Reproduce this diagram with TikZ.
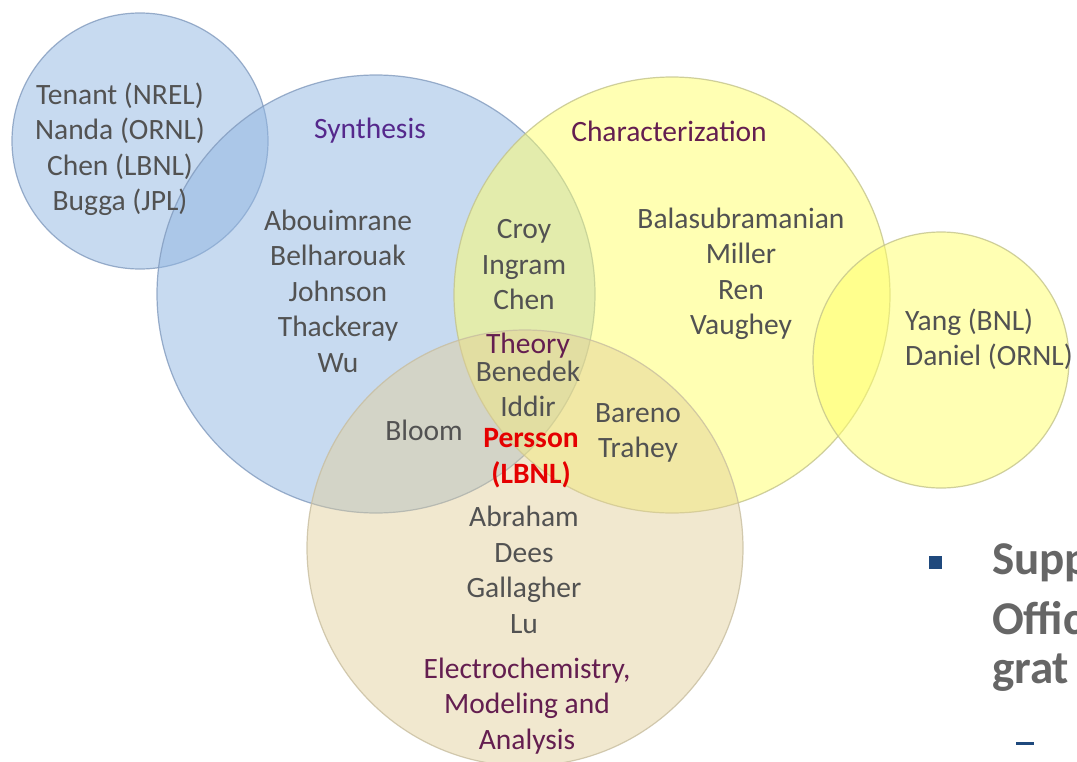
\documentclass[tikz,border=0pt]{standalone}
\usepackage{fontspec}
\setmainfont{Carlito}
\begin{document}
\begin{tikzpicture}[x=1pt,y=-1pt,
  namefont/.style={font=\fontsize{29.5}{35.5}\selectfont, text=black!68, align=center, inner sep=0pt},
  catpurple/.style={font=\fontsize{29.5}{35.5}\selectfont, text=catcol, align=center, inner sep=0pt},
  bluecirc/.style={fill=bluefill, fill opacity=0.5, draw=blueline, draw opacity=0.8, line width=1.2pt},
  yelcirc/.style={fill=yelfill, fill opacity=0.5, draw=yelline, draw opacity=0.8, line width=1.2pt},
  beigecirc/.style={fill=beigefill, fill opacity=0.45, draw=beigeline, draw opacity=0.8, line width=1.2pt},
  bigtext/.style={font=\fontsize{47}{55}\selectfont\bfseries, text=black!60, anchor=west, inner sep=0pt}
]
\definecolor{bluefill}{RGB}{145,182,226}
\definecolor{blueline}{RGB}{130,155,190}
\definecolor{yelfill}{RGB}{255,255,105}
\definecolor{yelline}{RGB}{195,195,140}
\definecolor{beigefill}{RGB}{226,205,150}
\definecolor{beigeline}{RGB}{200,190,160}
\definecolor{catcol}{RGB}{100,30,80}
\definecolor{syncol}{RGB}{85,40,140}
\definecolor{bulletblue}{RGB}{31,73,125}
\useasboundingbox (0,0) rectangle (1077,761);
\clip (0,0) rectangle (1077,761);
\fill[white] (0,0) rectangle (1077,761);
% circles
\path[bluecirc] (140,141) circle (128);
\path[bluecirc] (376,294) circle (219);
\path[yelcirc] (672,295) circle (218);
\path[yelcirc] (941,360) circle (128);
\path[beigecirc] (525,548) circle (218);
% texts
\node[namefont] (ext) at (120,149) {Tenant (NREL)\\Nanda (ORNL)\\Chen (LBNL)\\Bugga (JPL)};
\node[catpurple, text=syncol] (syn) at (370,131) {Synthesis};
\node[catpurple] (char) at (669,131) {Characterization};
\node[namefont] (synn) at (338,291) {Abouimrane\\Belharouak\\Johnson\\Thackeray\\Wu};
\node[namefont] (sc) at (524,265) {Croy\\Ingram\\Chen};
\node[namefont] (chn) at (741,274) {Balasubramanian\\Miller\\Ren\\Vaughey};
\node[namefont, align=left, anchor=west] (yd) at (905,339) {Yang (BNL)\\Daniel (ORNL)};
\node[catpurple] (th) at (528,346) {Theory};
\node[namefont] (thn) at (528,389) {Benedek\\Iddir};
\node[font=\fontsize{29.5}{35.5}\selectfont\bfseries, text=red!90!black, align=center, inner sep=0pt] (per) at (531,458) {Persson\\(LBNL)};
\node[namefont] (bl) at (424,430) {Bloom};
\node[namefont] (bt) at (638,433) {Bareno\\Trahey};
\node[namefont] (ecn) at (524,570) {Abraham\\Dees\\Gallagher\\Lu};
\node[catpurple] (ec) at (527,706) {Electrochemistry,\\Modeling and\\Analysis};
% side text
\node[fill=bulletblue, minimum size=13pt, inner sep=0pt] (bul) at (935,562) {};
\node[bigtext] (t1) at (992,563) {Supp};
\node[bigtext] (t2) at (992,618) {Offic};
\node[bigtext] (t3) at (992,673) {grat};
\node[fill=bulletblue, minimum width=18pt, minimum height=3pt, inner sep=0pt] (dash) at (1025,743) {};
\end{tikzpicture}
\end{document}
